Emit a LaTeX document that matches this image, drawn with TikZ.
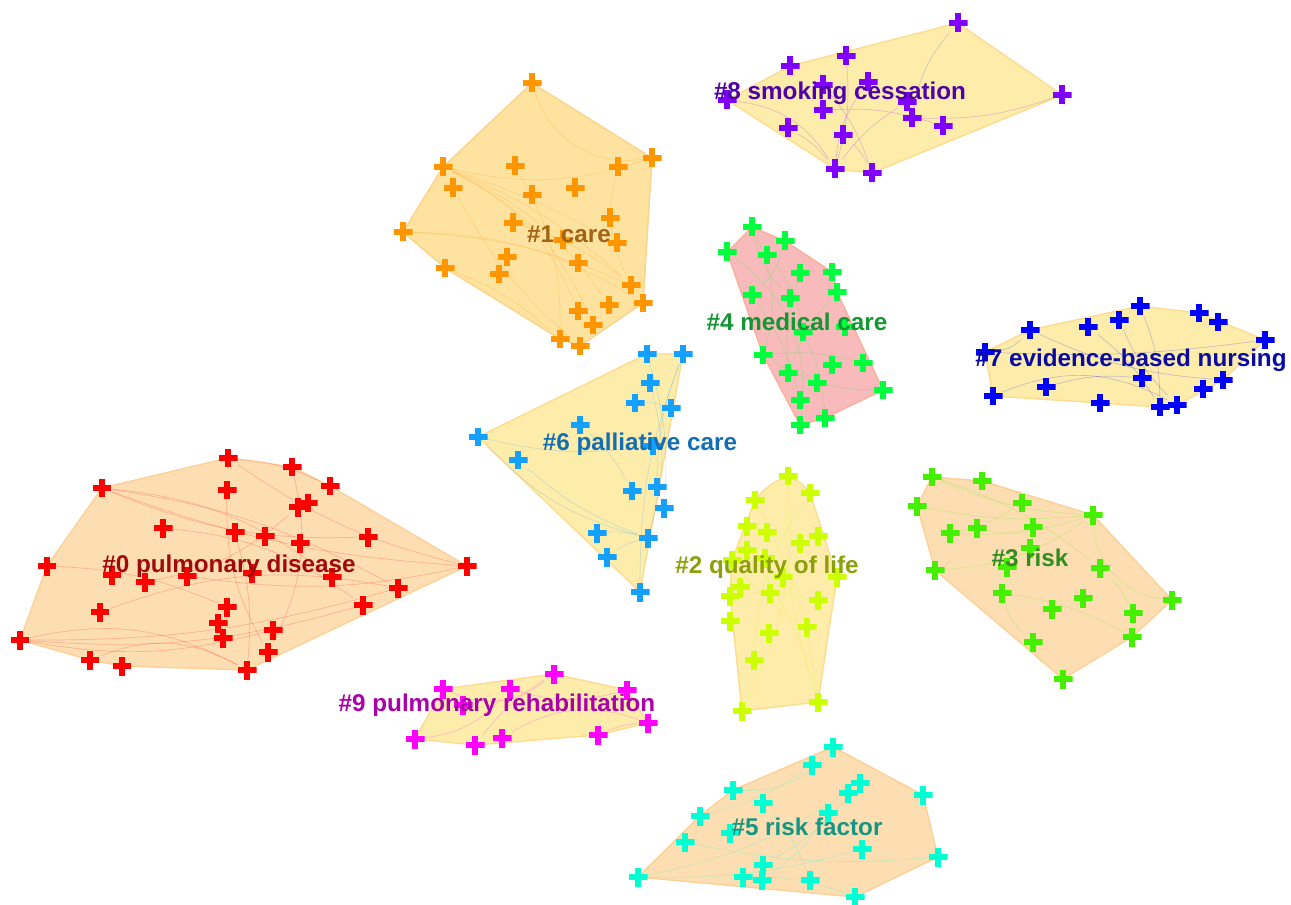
\documentclass[tikz,border=0pt]{standalone}
\usepackage{fontspec}
\setmainfont{Liberation Sans}
\usetikzlibrary{backgrounds}

\definecolor{mk0}{RGB}{255,0,0}     \definecolor{lb0}{RGB}{160,10,10}
\definecolor{mk1}{RGB}{255,150,0}   \definecolor{lb1}{RGB}{160,100,20}
\definecolor{mk2}{RGB}{204,255,0}   \definecolor{lb2}{RGB}{140,160,10}
\definecolor{mk3}{RGB}{68,240,0}    \definecolor{lb3}{RGB}{50,140,30}
\definecolor{mk4}{RGB}{0,255,60}    \definecolor{lb4}{RGB}{20,150,50}
\definecolor{mk5}{RGB}{0,255,210}   \definecolor{lb5}{RGB}{20,150,130}
\definecolor{mk6}{RGB}{20,160,255}  \definecolor{lb6}{RGB}{20,110,180}
\definecolor{mk7}{RGB}{0,0,255}     \definecolor{lb7}{RGB}{10,10,160}
\definecolor{mk8}{RGB}{127,0,255}   \definecolor{lb8}{RGB}{80,0,170}
\definecolor{mk9}{RGB}{255,0,255}   \definecolor{lb9}{RGB}{170,0,170}
\definecolor{peach}{RGB}{253,222,178}
\definecolor{amber}{RGB}{253,226,160}
\definecolor{straw}{RGB}{253,236,170}
\definecolor{blush}{RGB}{248,186,186}

\begin{document}
\begin{tikzpicture}[x=0.02cm,y=-0.02cm,
  plusmark/.style={minimum size=3.8mm,inner sep=0pt,
    path picture={\fill[#1] ([xshift=-0.6mm]path picture bounding box.north) rectangle ([xshift=0.6mm]path picture bounding box.south);
      \fill[#1] ([yshift=-0.6mm]path picture bounding box.west) rectangle ([yshift=0.6mm]path picture bounding box.east);}},
  hull/.style={fill=#1,draw=#1!85!orange,line width=0.8pt,line join=round},
  link/.style={draw=#1,opacity=0.2,line width=0.4pt},
  tag/.style={text=#1,font=\fontsize{13.8}{16}\selectfont\bfseries,inner sep=0pt}]
\useasboundingbox (0,0) rectangle (1291,905);

% cluster markers
\foreach \i/\x/\y in {1/228/458,2/292/467,3/330/486,4/102/488,5/227/490,6/298/507,7/308/503,8/163/528,
  9/235/532,10/265/536,11/300/543,12/368/537,13/47/566,14/467/566,15/112/575,16/145/582,17/187/576,
  18/252/573,19/332/577,20/398/588,21/100/612,22/227/607,23/363/605,24/218/623,25/223/638,26/273/630,
  27/268/652,28/20/640,29/90/660,30/122/666,31/247/670}
  \node[plusmark=mk0] (a\i) at (\x,\y) {};
\foreach \i/\x/\y in {1/532/83,2/652/158,3/443/167,4/515/166,5/618/167,6/453/188,7/532/195,8/575/188,
  9/513/223,10/610/218,11/403/232,12/563/240,13/617/243,14/507/257,15/578/263,16/445/268,17/499/274,
  18/631/285,19/609/305,20/643/303,21/578/311,22/593/325,23/560/339,24/580/346}
  \node[plusmark=mk1] (b\i) at (\x,\y) {};
\foreach \i/\x/\y in {1/788/476,2/810/493,3/755/500,4/747/526,5/767/532,6/818/536,7/800/543,8/747/550,
  9/732/560,10/765/558,11/783/577,12/837/577,13/740/587,14/730/596,15/770/593,16/818/600,17/730/621,
  18/807/627,19/769/633,20/754/660,21/818/702,22/742/711}
  \node[plusmark=mk2] (c\i) at (\x,\y) {};
\foreach \i/\x/\y in {1/932/477,2/982/481,3/917/506,4/1022/503,5/1093/515,6/950/533,7/977/528,8/1033/527,
  9/1030/548,10/1007/567,11/935/570,12/1100/568,13/1002/593,14/1083/598,15/1052/609,16/1172/600,
  17/1133/613,18/1033/642,19/1132/637,20/1063/679}
  \node[plusmark=mk3] (d\i) at (\x,\y) {};
\foreach \i/\x/\y in {1/752/227,2/785/241,3/727/252,4/767/255,5/800/273,6/832/272,7/837/292,8/752/295,
  9/790/298,10/803/332,11/845/327,12/763/355,13/863/363,14/832/365,15/788/373,16/817/383,17/883/390,
  18/800/400,19/825/418,20/800/425}
  \node[plusmark=mk4] (e\i) at (\x,\y) {};
\foreach \i/\x/\y in {1/833/747,2/812/765,3/860/783,4/733/790,5/848/793,6/923/795,7/763/803,8/700/816,
  9/828/813,10/730/833,11/685/842,12/862/849,13/938/857,14/763/865,15/638/877,16/743/877,17/762/880,
  18/810/880,19/855/897}
  \node[plusmark=mk5] (f\i) at (\x,\y) {};
\foreach \i/\x/\y in {1/647/354,2/683/354,3/650/383,4/635/403,5/671/408,6/580/425,7/478/437,8/653/446,
  9/518/460,10/632/491,11/657/487,12/664/508,13/597/533,14/648/538,15/607/557,16/640/592}
  \node[plusmark=mk6] (g\i) at (\x,\y) {};
\foreach \i/\x/\y in {1/1140/306,2/1199/313,3/1030/330,4/1088/327,5/1119/320,6/1218/322,7/1265/340,
  8/985/352,9/1142/378,10/1223/380,11/1203/389,12/1046/387,13/993/396,14/1100/403,15/1160/407,16/1177/405}
  \node[plusmark=mk7] (h\i) at (\x,\y) {};
\foreach \i/\x/\y in {1/958/23,2/846/56,3/790/66,4/823/85,5/868/82,6/727/100,7/907/102,8/1062/95,
  9/823/110,10/912/118,11/943/126,12/788/128,13/843/135,14/835/169,15/872/173}
  \node[plusmark=mk8] (k\i) at (\x,\y) {};
\foreach \i/\x/\y in {1/554/674,2/443/689,3/510/689,4/627/690,5/463/705,6/648/723,7/415/739,8/598/735,
  9/502/738,10/475/745}
  \node[plusmark=mk9] (m\i) at (\x,\y) {};

\begin{scope}[on background layer]
% cluster hulls
\draw[hull=peach] (a4.center) -- (a1.center) -- (a2.center) -- (a3.center) -- (a14.center) -- (a31.center)
  -- (a30.center) -- (a29.center) -- (a28.center) -- (a13.center) -- cycle;
\draw[hull=amber] (b1.center) -- (b2.center) -- (b20.center) -- (b24.center) -- (b23.center) -- (b16.center)
  -- (b11.center) -- (b3.center) -- cycle;
\draw[hull=straw] (c1.center) to[bend left=15] (c2.center) -- (c12.center) -- (c21.center) -- (c22.center)
  -- (c14.center) -- (c9.center) -- (c3.center) to[bend left=15] (c1.center) -- cycle;
\draw[hull=peach] (d1.center) -- (d2.center) -- (d5.center) -- (d16.center) -- (d19.center) -- (d20.center)
  -- (d11.center) -- (d3.center) -- cycle;
\draw[hull=blush] (e1.center) -- (e2.center) -- (e6.center) -- (e7.center) -- (e17.center) -- (e19.center)
  -- (e20.center) -- (e12.center) -- (e3.center) -- cycle;
\draw[hull=peach] (f15.center) -- (f8.center) -- (f4.center) -- (f1.center) -- (f6.center) -- (f13.center)
  -- (f19.center) -- cycle;
\draw[hull=straw] (g1.center) -- (g2.center) -- (g16.center) -- (g7.center) -- cycle;
\draw[hull=straw] (h13.center) -- (h8.center) -- (h3.center) -- (h1.center) -- (h2.center) -- (h7.center)
  -- (h10.center) -- (h16.center) -- (h15.center) -- (h14.center) -- cycle;
\draw[hull=straw] (k6.center) -- (k3.center) -- (k1.center) -- (k8.center) -- (k15.center) -- (k14.center) -- cycle;
\draw[hull=straw] (m7.center) -- (m2.center) -- (m1.center) -- (m4.center) -- (m6.center) -- (m8.center)
  -- (m10.center) -- cycle;

% co-citation links
\foreach \p/\q/\c in {4/14/-8,4/12/-12,4/20/10,4/19/15,28/31/20,28/23/-10,28/20/-8,28/26/-12,1/3/10,2/27/20,
  8/23/15,13/22/10,5/27/-15,9/31/10,21/20/15,29/31/25,17/14/-10,16/6/-15,1/14/-10}
  \draw[link=mk0] (a\p) to[bend left=\c] (a\q);
\foreach \p/\q/\c in {3/18/10,3/19/15,3/22/20,3/21/20,3/13/5,11/20/15,11/18/10,1/2/-40,3/2/-15,16/23/10,
  6/24/-10,9/18/10,4/23/15,5/18/-20}
  \draw[link=mk1] (b\p) to[bend left=\c] (b\q);
\foreach \p/\q/\c in {1/22/15,1/21/-10,3/21/10,9/18/-10,14/16/10,2/20/-15,8/21/10}
  \draw[link=mk2] (c\p) to[bend left=\c] (c\q);
\foreach \p/\q/\c in {1/5/-10,1/12/10,3/5/-8,6/5/-10,7/8/-15,5/16/-40,12/17/10,13/18/-15,18/20/-20,11/5/-15,
  4/6/10,13/19/10}
  \draw[link=mk3] (d\p) to[bend left=\c] (d\q);
\foreach \p/\q/\c in {1/12/20,1/9/-15,3/20/30,4/10/15,5/15/-10,12/17/-15,8/18/10,10/19/10,2/8/15,7/15/-10,12/13/10}
  \draw[link=mk4] (e\p) to[bend left=\c] (e\q);
\foreach \p/\q/\c in {15/5/-10,15/12/-8,8/2/-10,4/1/-25,11/13/-8,14/3/-10,16/19/10,17/9/-10,7/18/10}
  \draw[link=mk5] (f\p) to[bend left=\c] (f\q);
\foreach \p/\q/\c in {7/8/-10,7/14/-15,9/14/-10,6/10/10,3/14/15,2/11/-10,4/5/10,13/14/10,15/14/10,2/16/-10,1/12/10}
  \draw[link=mk6] (g\p) to[bend left=\c] (g\q);
\foreach \p/\q/\c in {3/8/20,13/16/25,4/15/10,2/6/10,1/15/10,12/9/10,8/7/-5,5/16/-10,3/10/-10}
  \draw[link=mk7] (h\p) to[bend left=\c] (h\q);
\foreach \p/\q/\c in {6/14/25,1/10/-15,2/14/10,4/15/10,9/11/10,8/10/10,7/14/-10,12/14/10,13/15/10,5/14/-15}
  \draw[link=mk8] (k\p) to[bend left=\c] (k\q);
\foreach \p/\q/\c in {2/1/-30,9/6/25,7/3/-20,3/4/-15,10/1/10,8/6/10}
  \draw[link=mk9] (m\p) to[bend left=\c] (m\q);
\end{scope}

% cluster labels
\node[tag=lb0] (t0) at (229,566) {\#0 pulmonary disease};
\node[tag=lb1] (t1) at (569,234) {\#1 care};
\node[tag=lb2] (t2) at (767,567) {\#2 quality of life};
\node[tag=lb3] (t3) at (1030,558) {\#3 risk};
\node[tag=lb4] (t4) at (797,322) {\#4 medical care};
\node[tag=lb5] (t5) at (807,827) {\#5 risk factor};
\node[tag=lb6] (t6) at (640,444) {\#6 palliative care};
\node[tag=lb7] (t7) at (1131,360) {\#7 evidence-based nursing};
\node[tag=lb8] (t8) at (840,93) {\#8 smoking cessation};
\node[tag=lb9] (t9) at (497,705) {\#9 pulmonary rehabilitation};
\end{tikzpicture}
\end{document}
